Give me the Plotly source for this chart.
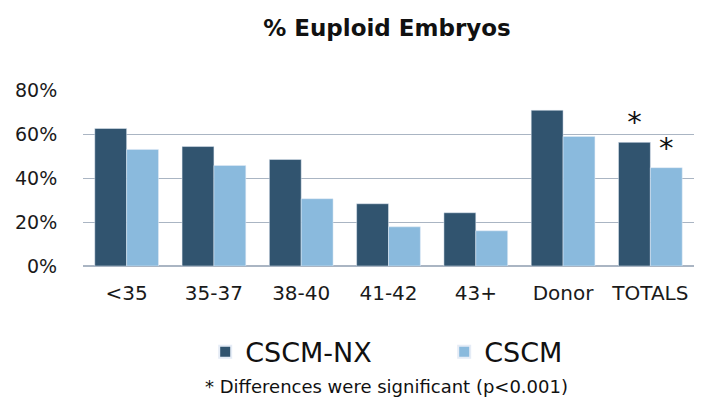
import plotly.graph_objects as go

categories = ["<35", "35-37", "38-40", "41-42", "43+", "Donor", "TOTALS"]
cscm_nx = [62.5, 54.3, 48.4, 28.3, 24.2, 70.8, 56.2]
cscm = [53.0, 45.7, 30.6, 17.8, 16.0, 58.9, 44.7]
sig_nx = ["", "", "", "", "", "", "*"]
sig_cscm = ["", "", "", "", "", "", "*"]
y_ticks = [0, 20, 40, 60, 80]
y_tick_labels = ["0%", "20%", "40%", "60%", "80%"]

FONT = "DejaVu Sans, sans-serif"
fig = go.Figure()
fig.add_trace(go.Bar(x=categories, y=cscm_nx, name="CSCM-NX", marker_color="#31546f",
                     text=sig_nx, textposition="outside", textfont=dict(size=29, color="#111"),
                     cliponaxis=False))
fig.add_trace(go.Bar(x=categories, y=cscm, name="CSCM", marker_color="#8abadd",
                     text=sig_cscm, textposition="outside", textfont=dict(size=29, color="#111"),
                     cliponaxis=False))

fig.update_layout(
    width=707, height=401,
    margin=dict(l=75, r=21, t=82, b=143, autoexpand=False),
    paper_bgcolor="white", plot_bgcolor="white",
    font=dict(family=FONT, color="#1a1a1a"),
    title=dict(text="<b>% Euploid Embryos</b>", x=0.536, xanchor="center", y=0.95, yanchor="middle",
               font=dict(size=23, family=FONT, color="#111")),
    barmode="group", bargap=0.27, bargroupgap=0,
    showlegend=True,
    legend=dict(orientation="h", x=0.2, xanchor="left", y=-0.49, yanchor="middle",
                font=dict(size=27, family=FONT, color="#111"),
                entrywidth=194, entrywidthmode="pixels", itemsizing="constant"),
    annotations=[dict(text="* Differences were significant (p<0.001)", xref="paper", yref="paper",
                      x=0.497, y=-0.685, xanchor="center", yanchor="middle", showarrow=False,
                      font=dict(size=18, family=FONT, color="#111"))],
)
fig.update_yaxes(range=[0, 80], tickvals=y_ticks, ticktext=y_tick_labels, showgrid=True,
                 gridcolor="#aab5c3", gridwidth=1.2, zeroline=True, zerolinecolor="#aab5c3",
                 zerolinewidth=1.5, tickfont=dict(size=19, family=FONT, color="#1a1a1a"),
                 ticks="outside", ticklen=21, tickcolor="rgba(0,0,0,0)", automargin=False)
fig.update_xaxes(tickfont=dict(size=20, family=FONT, color="#1a1a1a"), showline=False,
                 ticks="outside", ticklen=9, tickcolor="rgba(0,0,0,0)", automargin=False)

fig.write_html("out.html")
